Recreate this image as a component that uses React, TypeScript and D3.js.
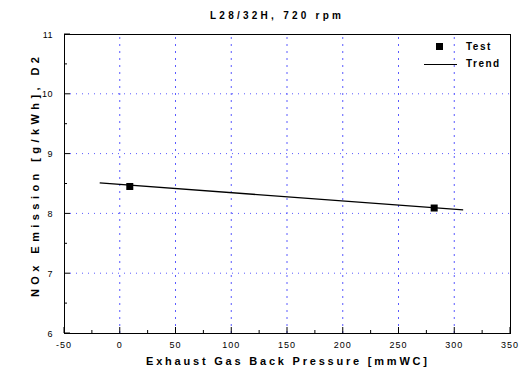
import * as d3 from "d3"

const title = "L28/32H, 720 rpm"
const xLabel = "Exhaust Gas Back Pressure [mmWC]"
const yLabel = "NOx Emission [g/kWh], D2"

const xTicks = [-50, 0, 50, 100, 150, 200, 250, 300, 350]
const yTicks = [6, 7, 8, 9, 10, 11]

// measured points
const testX = [9, 282]
const testY = [8.45, 8.09]

// trend line end points
const trendX = [-18, 308]
const trendY = [8.51, 8.06]

const W = 522
const H = 370
const m = { top: 34, right: 12, bottom: 37, left: 64 }

const font = "'Liberation Sans', Arial, sans-serif"
const gridColor = "#5a5aff"

export default function App() {
  const x = d3.scaleLinear().domain([-50, 350]).range([m.left, W - m.right])
  const y = d3.scaleLinear().domain([6, 11]).range([H - m.bottom, m.top])

  const x0 = x.range()[0]
  const x1 = x.range()[1]
  const y0 = y.range()[0]
  const y1 = y.range()[1]

  const xMinor = d3.range(-50, 351, 25)
  const yMinor = d3.range(6, 11.01, 0.5)

  const trend = d3
    .line<number>()
    .x((d) => x(d))
    .y((_, i) => y(trendY[i]))(trendX)

  return (
    <svg
      width={W}
      height={H}
      style={{ position: "absolute", left: 0, top: 0, background: "#fff" }}
      fontFamily={font}
    >
      <rect width={W} height={H} fill="#fff" />

      {/* grid */}
      {xTicks
        .filter((t) => t > -50 && t < 350)
        .map((t) => (
          <line
            key={"gx" + t}
            x1={x(t)}
            x2={x(t)}
            y1={y0}
            y2={y1}
            stroke={gridColor}
            strokeDasharray="2 5"
          />
        ))}
      {yTicks
        .filter((t) => t > 6 && t < 11)
        .map((t) => (
          <line
            key={"gy" + t}
            x1={x0}
            x2={x1}
            y1={y(t)}
            y2={y(t)}
            stroke={gridColor}
            strokeDasharray="1 5"
          />
        ))}

      {/* ticks */}
      {xMinor.map((t) => (
        <line
          key={"tx" + t}
          x1={x(t)}
          x2={x(t)}
          y1={y0}
          y2={y0 - (t % 50 === 0 ? 6 : 3)}
          stroke="#000"
        />
      ))}
      {yMinor.map((t) => (
        <line
          key={"ty" + t}
          x1={x0}
          x2={x0 + (t % 1 === 0 ? 6 : 3)}
          y1={y(t)}
          y2={y(t)}
          stroke="#000"
        />
      ))}

      <rect
        x={x0 + 0.5}
        y={y1 + 0.5}
        width={x1 - x0}
        height={y0 - y1}
        fill="none"
        stroke="#000"
      />

      {/* tick labels */}
      {xTicks.map((t) => (
        <text
          key={"lx" + t}
          x={x(t)}
          y={y0 + 15}
          fontSize={9}
          letterSpacing={1}
          textAnchor="middle"
        >
          {t}
        </text>
      ))}
      {yTicks.map((t) => (
        <text
          key={"ly" + t}
          x={x0 - 11}
          y={y(t) + 3.5}
          fontSize={9}
          letterSpacing={0.5}
          textAnchor="end"
        >
          {t}
        </text>
      ))}

      {/* data */}
      <path d={trend ?? ""} fill="none" stroke="#000" strokeWidth={1.3} />
      {testX.map((v, i) => (
        <rect
          key={"p" + i}
          x={x(v) - 3.5}
          y={y(testY[i]) - 3.5}
          width={7}
          height={7}
          fill="#000"
        />
      ))}

      {/* legend */}
      <rect x={436} y={43} width={7} height={7} fill="#000" />
      <text x={466} y={50} fontSize={10} fontWeight="bold" letterSpacing={1.5}>
        Test
      </text>
      <line x1={424} x2={457} y1={64.5} y2={64.5} stroke="#000" />
      <text x={466} y={67} fontSize={10} fontWeight="bold" letterSpacing={1.5}>
        Trend
      </text>

      {/* titles */}
      <text
        x={210}
        y={19}
        fontSize={10}
        fontWeight="bold"
        textLength={131}
        lengthAdjust="spacing"
      >
        {title}
      </text>
      <text
        x={146}
        y={365}
        fontSize={11}
        fontWeight="bold"
        textLength={281}
        lengthAdjust="spacing"
      >
        {xLabel}
      </text>
      <text
        transform={`translate(39,297) rotate(-90)`}
        fontSize={11}
        fontWeight="bold"
        textLength={240}
        lengthAdjust="spacing"
      >
        {yLabel}
      </text>
    </svg>
  )
}
